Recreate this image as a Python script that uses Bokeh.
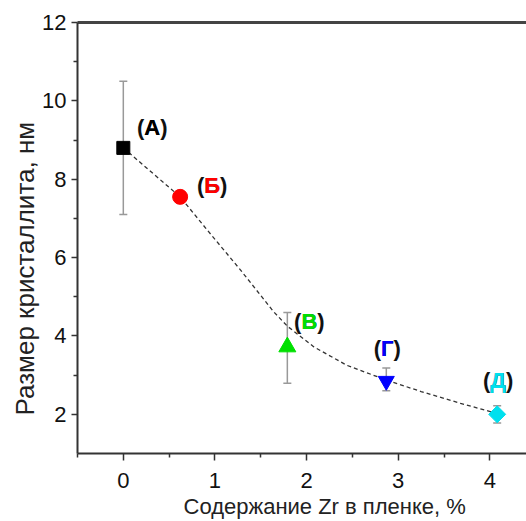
import math
from bokeh.plotting import figure
from bokeh.models import ColumnDataSource, Whisker, TeeHead, LinearAxis, Title, FixedTicker, Range1d
from bokeh.core.properties import value
from bokeh.embed import file_html
from bokeh.resources import INLINE

# ---------------- data ----------------
zr_content = [0.0, 0.62, 1.79, 2.87, 4.08]          # Zr content, %
crystallite_size = [8.8, 7.55, 3.72, 2.85, 2.0]      # crystallite size, nm
err_lower = [7.1, 7.55, 2.79, 2.6, 1.78]
err_upper = [10.5, 7.55, 4.6, 3.18, 2.22]
sample_letters = ["А", "Б", "В", "Г", "Д"]
sample_labels = ["(А)", "(Б)", "(В)", "(Г)", "(Д)"]

fit_x = [0.0, 0.62, 0.91, 1.28, 1.64, 1.79, 2.08, 2.44, 2.84, 3.25, 3.68, 4.08]
fit_y = [8.8, 7.55, 6.72, 5.68, 4.62, 4.25, 3.72, 3.25, 2.9, 2.58, 2.28, 2.02]

x_ticks = [0, 1, 2, 3, 4]
x_minor_ticks = [-0.5, 0.5, 1.5, 2.5, 3.5]
y_ticks = [2, 4, 6, 8, 10, 12]
y_minor_ticks = [3, 5, 7, 9, 11]

x_title = "Содержание Zr в пленке, %"
y_title = "Размер кристаллита, нм"

# ---------------- styles ----------------
FONT = "Liberation Sans"
colors = ["#000000", "#ff0000", "#00e000", "#0000ff", "#00e0ee"]
markers = ["square", "circle", "triangle", "inverted_triangle", "square"]
sizes = [13, 15, 17, 16, 12]
angles = [0, 0, 0, 0, math.pi / 4]
label_dx = [29, 32, 22, 1, 1]
label_dy = [-20, -11, -25, -33, -34]

p = figure(width=526, height=521, title=None,
           x_range=Range1d(-0.5, 4.4), y_range=Range1d(1, 12),
           output_backend="svg", toolbar_location=None,
           min_border_left=77, min_border_right=0, min_border_top=22, min_border_bottom=68,
           background_fill_color="white", border_fill_color="white")
p.outline_line_color = None
p.xgrid.visible = False
p.ygrid.visible = False

for ax, ticks, minor in ((p.xaxis[0], x_ticks, x_minor_ticks), (p.yaxis[0], y_ticks, y_minor_ticks)):
    ax.ticker = FixedTicker(ticks=ticks, minor_ticks=minor)
    ax.axis_line_color = "#333333"
    ax.axis_line_width = 2
    ax.major_tick_line_color = "#333333"
    ax.minor_tick_line_color = "#333333"
    ax.major_tick_line_width = 1.5
    ax.minor_tick_line_width = 1.5
    ax.major_tick_in = 0
    ax.minor_tick_in = 0
    ax.minor_tick_out = 4
    ax.major_label_text_font = FONT
    ax.major_label_text_font_size = "22px"
    ax.major_label_text_color = "#111111"

p.xaxis.major_tick_out = 7
p.yaxis.major_tick_out = 6
p.xaxis.major_label_standoff = 12
p.yaxis.major_label_standoff = 5

top_axis = LinearAxis(ticker=FixedTicker(ticks=[], minor_ticks=[]),
                      axis_line_color="#444444", axis_line_width=3,
                      major_tick_out=0, major_tick_in=0, minor_tick_out=0, minor_tick_in=0)
p.add_layout(top_axis, "above")

# axis titles as side titles (offset from the frame start)
p.add_layout(Title(text=x_title, align="left", offset=106, standoff=2,
                   text_font=FONT, text_font_size="22px", text_font_style="normal",
                   text_color="#222222"), "below")
p.add_layout(Title(text=y_title, align="left", offset=38, standoff=0,
                   text_font=FONT, text_font_size="26px", text_font_style="normal",
                   text_color="#222222"), "left")

# error bars
err_src = ColumnDataSource(dict(base=zr_content, lower=err_lower, upper=err_upper))
whisk = Whisker(base="base", lower="lower", upper="upper", source=err_src, dimension="height",
                line_color="#999999", line_width=1.5, level="underlay",
                upper_head=TeeHead(size=8, line_color="#999999", line_width=1.5),
                lower_head=TeeHead(size=8, line_color="#999999", line_width=1.5))
p.add_layout(whisk)

# fit curve
p.line(fit_x, fit_y, line_color="#333333", line_width=1.3, line_dash="4 3")

# markers
pts = ColumnDataSource(dict(x=zr_content, y=crystallite_size, color=colors, marker=markers,
                            size=sizes, angle=angles, label=sample_labels, letter=sample_letters,
                            dx=label_dx, dy=label_dy))
p.scatter("x", "y", source=pts, marker="marker", size="size", angle="angle",
          fill_color="color", line_color="color", line_width=1)

# labels: black "(X)" then coloured letter on top
p.text("x", "y", text="label", source=pts, x_offset="dx", y_offset="dy",
       text_font=value(FONT), text_font_size="22px", text_font_style="bold",
       text_color="#111111", text_align="center", text_baseline="middle")
p.text("x", "y", text="letter", source=pts, x_offset="dx", y_offset="dy",
       text_font=value(FONT), text_font_size="22px", text_font_style="bold",
       text_color="color", text_align="center", text_baseline="middle")

open("out.html", "w").write(file_html(p, INLINE))
